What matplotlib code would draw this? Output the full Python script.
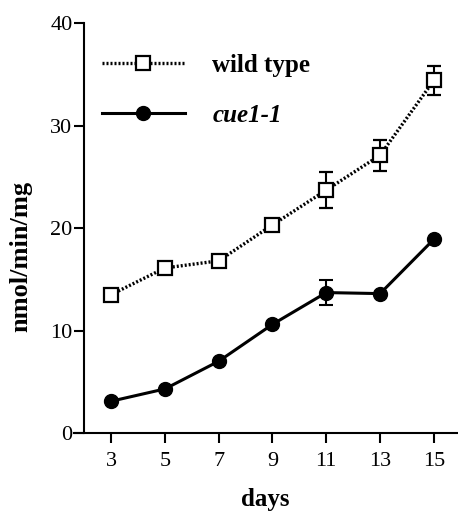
import numpy as np
import matplotlib.pyplot as plt
from matplotlib.lines import Line2D

plt.rcParams['font.family'] = ['Liberation Serif', 'DejaVu Serif']

days = [3, 5, 7, 9, 11, 13, 15]
wild_type = [13.5, 16.1, 16.8, 20.3, 23.7, 27.1, 34.4]
wild_err = [0, 0, 0, 0, 1.75, 1.5, 1.4]
cue1 = [3.1, 4.3, 7.0, 10.6, 13.7, 13.6, 18.9]
cue1_err = [0, 0, 0, 0, 1.2, 0, 0]

dots = (0, (0.6, 0.6))

fig = plt.figure(figsize=(4.58, 5.11), dpi=100)
ax = fig.add_axes([74 / 458, 1 - 433 / 511, 383 / 458, 410 / 511])

ax.errorbar(days, wild_type, yerr=wild_err, color='black', ls=dots, lw=2.4,
            marker='s', ms=10, mfc='white', mec='black', mew=1.6,
            capsize=5, elinewidth=1.5, capthick=1.5)
ax.errorbar(days, cue1, yerr=cue1_err, color='black', ls='-', lw=2.2,
            marker='o', ms=10, mfc='black', mec='black',
            capsize=5, elinewidth=1.5, capthick=1.5)

ax.set_xlim(1.62, 15.86)
ax.set_ylim(0, 40)
ax.set_xticks(days)
ax.set_yticks([0, 10, 20, 30, 40])
ax.spines['top'].set_visible(False)
ax.spines['right'].set_visible(False)
ax.spines['left'].set_position(('data', 2))
ax.spines['left'].set_linewidth(1.5)
ax.spines['bottom'].set_linewidth(1.5)
ax.tick_params(width=1.5, length=7, labelsize=16)
ax.tick_params(axis='x', pad=7)
ax.tick_params(axis='y', pad=1.5)

ax.set_xlabel('days', fontsize=18, fontweight='bold', labelpad=12)
ax.set_ylabel('nmol/min/mg', fontsize=19, fontweight='bold')
ax.yaxis.set_label_coords(-0.11, 0.43)

handles = [
    Line2D([], [], color='black', ls=dots, lw=2.4, marker='s', ms=10,
           mfc='white', mec='black', mew=1.6),
    Line2D([], [], color='black', ls='-', lw=2.2, marker='o', ms=10,
           mfc='black'),
]
leg = ax.legend(handles, ['wild type', 'cue1-1'], loc='upper left',
                bbox_to_anchor=(0.015, 0.98), frameon=False, fontsize=18,
                handlelength=3.3, handletextpad=1.1, labelspacing=1.1)
for t in leg.get_texts():
    t.set_fontweight('bold')
leg.get_texts()[1].set_fontstyle('italic')

fig.savefig('out.png', dpi=100)
